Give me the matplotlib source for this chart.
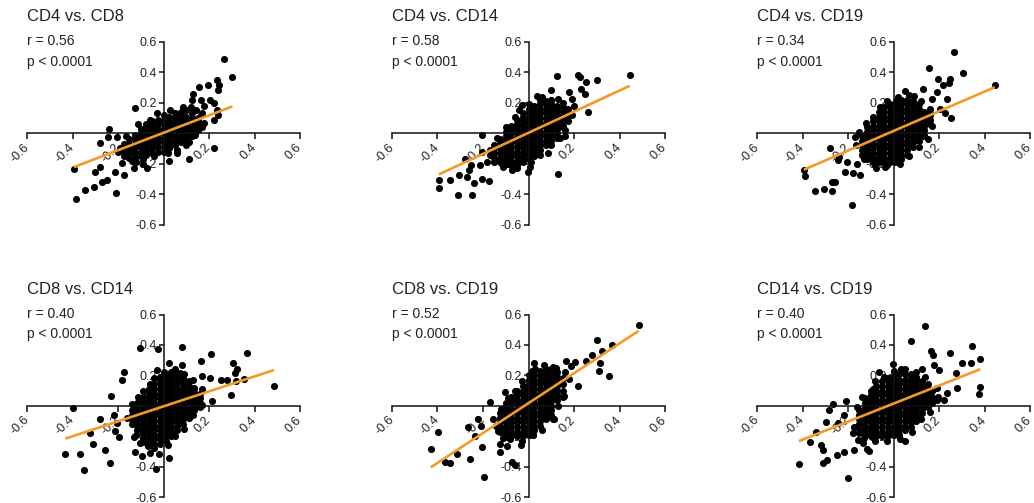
import matplotlib
matplotlib.use("Agg")
import matplotlib.pyplot as plt

plt.rcParams['font.family'] = ['Liberation Sans', 'DejaVu Sans']

titles = ["CD4 vs. CD8", "CD4 vs. CD14", "CD4 vs. CD19",
          "CD8 vs. CD14", "CD8 vs. CD19", "CD14 vs. CD19"]
r_values = ["0.56", "0.58", "0.34", "0.40", "0.52", "0.40"]
p_text = "p < 0.0001"
ticks = [-0.6, -0.4, -0.2, 0.2, 0.4, 0.6]
tick_labels = ["-0.6", "-0.4", "-0.2", "0.2", "0.4", "0.6"]

# regression lines
fit_slope = [0.573, 0.694, 0.647, 0.492, 0.982, 0.593]
fit_icept = [0.003, 0.003, 0.015, -0.004, 0.017, 0.014]

# scattered points (x, y)
p1_pts = [(0.267, 0.489), (0.303, 0.370), (0.236, 0.352), (0.245, 0.319), (0.241, 0.286),
          (0.197, 0.319), (0.157, 0.304), (0.131, 0.26), (0.124, 0.22), (0.163, 0.22),
          (0.204, 0.22), (0.22, 0.20), (0.18, 0.18), (0.235, 0.15), (0.17, 0.13),
          (0.145, 0.15), (0.18, 0.066), (0.15, 0.07), (0.24, 0.12), (0.22, 0.09),
          (-0.124, 0.165), (-0.241, 0.026), (-0.245, -0.022), (-0.204, -0.022),
          (-0.277, -0.066), (-0.394, -0.238), (-0.386, -0.434), (-0.343, -0.370),
          (-0.306, -0.352), (-0.27, -0.32), (-0.25, -0.31), (-0.303, -0.253),
          (-0.277, -0.22), (-0.207, -0.396), (-0.211, -0.253), (-0.175, -0.275),
          (-0.182, -0.198), (-0.131, -0.231), (-0.16, -0.15), (-0.14, -0.12),
          (-0.2, -0.12), (-0.073, -0.231), (-0.12, -0.19), (-0.09, -0.2),
          (0.022, -0.18), (0.112, -0.172), (0.223, -0.099), (0.06, -0.13), (0.10, -0.08)]
# points at the rim of the dense centre
p1_edge = [(-0.19, -0.10), (-0.165, -0.02), (-0.11, 0.06), (-0.06, 0.09), (-0.03, 0.13),
           (0.03, 0.15), (0.085, 0.17), (0.12, 0.17), (0.165, 0.12), (0.17, 0.04),
           (0.14, -0.01), (0.11, -0.06), (0.06, -0.11), (0.02, -0.13), (-0.04, -0.15),
           (-0.09, -0.17), (-0.14, -0.18)]
# dense centre of each cloud, as columns: (x, [y, ...])
p1_core = [(-0.175, [-0.15, -0.12, -0.09, -0.07]),
           (-0.15, [-0.16, -0.13, -0.10, -0.07, -0.04]),
           (-0.125, [-0.16, -0.13, -0.10, -0.07, -0.04, -0.01]),
           (-0.10, [-0.15, -0.12, -0.09, -0.06, -0.03, 0.0, 0.03]),
           (-0.075, [-0.14, -0.11, -0.08, -0.05, -0.02, 0.01, 0.04, 0.06]),
           (-0.05, [-0.13, -0.10, -0.07, -0.04, -0.01, 0.02, 0.05, 0.08]),
           (-0.025, [-0.12, -0.09, -0.06, -0.03, 0.0, 0.03, 0.06, 0.09]),
           (0.0, [-0.12, -0.09, -0.06, -0.03, 0.0, 0.03, 0.06, 0.09, 0.12]),
           (0.025, [-0.10, -0.07, -0.04, -0.01, 0.02, 0.05, 0.08, 0.11]),
           (0.05, [-0.08, -0.05, -0.02, 0.01, 0.04, 0.07, 0.10, 0.13]),
           (0.075, [-0.06, -0.03, 0.0, 0.03, 0.06, 0.09, 0.12, 0.14]),
           (0.10, [-0.04, -0.01, 0.02, 0.05, 0.08, 0.11, 0.15]),
           (0.125, [-0.02, 0.01, 0.04, 0.07, 0.10, 0.13]),
           (0.15, [0.02, 0.05, 0.08, 0.10])]

p2_pts = [(0.445, 0.386), (0.300, 0.347), (0.216, 0.386), (0.226, 0.371), (0.252, 0.336),
          (0.127, 0.375), (0.098, 0.284), (0.178, 0.271), (0.230, 0.289), (0.248, 0.260),
          (0.262, 0.137), (0.036, 0.245), (0.128, 0.223), (0.19, 0.223), (-0.029, 0.184),
          (0.128, -0.271), (0.085, -0.128), (0.16, -0.015), (0.153, 0.039),
          (-0.204, -0.011), (-0.204, -0.124), (-0.168, -0.113), (-0.277, -0.171),
          (-0.251, -0.21), (-0.211, -0.21), (-0.182, -0.189), (-0.394, -0.308),
          (-0.394, -0.362), (-0.343, -0.308), (-0.306, -0.275), (-0.27, -0.29),
          (-0.24, -0.33), (-0.204, -0.30), (-0.172, -0.315), (-0.309, -0.406),
          (-0.248, -0.406), (-0.262, -0.243), (-0.16, -0.145), (-0.146, -0.178),
          (-0.073, -0.243), (-0.117, -0.2), (-0.003, -0.254), (0.007, -0.221),
          (-0.124, -0.069), (0.2, 0.18), (0.17, 0.15)]
p2_edge = [(-0.17, -0.14), (-0.14, -0.03), (-0.10, 0.04), (-0.06, 0.11), (-0.04, 0.15),
           (0.0, 0.19), (0.06, 0.24), (0.10, 0.22), (0.15, 0.20), (0.19, 0.12),
           (0.16, 0.02), (0.14, -0.03), (0.10, -0.08), (0.05, -0.14), (0.01, -0.19),
           (-0.05, -0.23), (-0.11, -0.22)]
p2_core = [(-0.15, [-0.19, -0.16, -0.13, -0.10, -0.08]),
           (-0.125, [-0.19, -0.16, -0.13, -0.10, -0.07, -0.04]),
           (-0.10, [-0.20, -0.17, -0.14, -0.11, -0.08, -0.05, -0.02, 0.01]),
           (-0.075, [-0.21, -0.18, -0.15, -0.12, -0.09, -0.06, -0.03, 0.0, 0.03, 0.05]),
           (-0.05, [-0.21, -0.18, -0.15, -0.12, -0.09, -0.06, -0.03, 0.0, 0.03, 0.06, 0.09]),
           (-0.025, [-0.19, -0.16, -0.13, -0.10, -0.07, -0.04, -0.01, 0.02, 0.05, 0.08, 0.11, 0.13]),
           (0.0, [-0.17, -0.14, -0.11, -0.08, -0.05, -0.02, 0.01, 0.04, 0.07, 0.10, 0.13, 0.16]),
           (0.025, [-0.15, -0.12, -0.09, -0.06, -0.03, 0.0, 0.03, 0.06, 0.09, 0.12, 0.15, 0.18]),
           (0.05, [-0.11, -0.08, -0.05, -0.02, 0.01, 0.04, 0.07, 0.10, 0.13, 0.16, 0.19, 0.22]),
           (0.075, [-0.08, -0.05, -0.02, 0.01, 0.04, 0.07, 0.10, 0.13, 0.16, 0.19, 0.21]),
           (0.10, [-0.05, -0.02, 0.01, 0.04, 0.07, 0.10, 0.13, 0.16, 0.19]),
           (0.125, [-0.03, 0.0, 0.03, 0.06, 0.09, 0.12, 0.15, 0.18]),
           (0.15, [0.05, 0.08, 0.11, 0.14, 0.17]),
           (0.175, [0.08, 0.12, 0.16])]

p3_pts = [(0.266, 0.533), (0.304, 0.397), (0.445, 0.319), (0.156, 0.43), (0.194, 0.36),
          (0.248, 0.354), (0.242, 0.332), (0.219, 0.314), (0.131, 0.293), (0.193, 0.271),
          (0.051, 0.277), (0.088, 0.245), (0.168, 0.223), (0.234, 0.223), (0.226, 0.135),
          (0.251, 0.103), (0.204, 0.157), (0.16, 0.135), (0.131, -0.017), (0.007, -0.192),
          (-0.036, -0.225), (-0.073, -0.17), (-0.168, -0.022), (-0.277, -0.094),
          (-0.241, -0.159), (-0.245, -0.175), (-0.394, -0.24), (-0.387, -0.284),
          (-0.343, -0.378), (-0.307, -0.367), (-0.27, -0.378), (-0.27, -0.319),
          (-0.256, -0.319), (-0.182, -0.472), (-0.212, -0.258), (-0.178, -0.262),
          (-0.146, -0.275), (-0.16, -0.203), (-0.204, -0.192), (-0.117, -0.148),
          (-0.076, -0.231)]
p3_edge = [(-0.165, -0.08), (-0.15, 0.01), (-0.12, 0.07), (-0.09, 0.11), (-0.06, 0.17),
           (-0.03, 0.21), (0.02, 0.24), (0.07, 0.25), (0.12, 0.21), (0.16, 0.16),
           (0.17, 0.05), (0.15, -0.04), (0.11, -0.09), (0.07, -0.15), (0.03, -0.20),
           (-0.03, -0.21), (-0.08, -0.21), (-0.13, -0.17)]
p3_core = [(-0.14, [-0.14, -0.11, -0.08, -0.05, -0.02]),
           (-0.115, [-0.17, -0.14, -0.11, -0.08, -0.05, -0.02, 0.01, 0.04]),
           (-0.09, [-0.19, -0.16, -0.13, -0.10, -0.07, -0.04, -0.01, 0.02, 0.05, 0.08]),
           (-0.065, [-0.19, -0.16, -0.13, -0.10, -0.07, -0.04, -0.01, 0.02, 0.05, 0.08, 0.11, 0.14]),
           (-0.04, [-0.19, -0.16, -0.13, -0.10, -0.07, -0.04, -0.01, 0.02, 0.05, 0.08, 0.11, 0.14, 0.17]),
           (-0.015, [-0.19, -0.16, -0.13, -0.10, -0.07, -0.04, -0.01, 0.02, 0.05, 0.08, 0.11, 0.14, 0.17, 0.19]),
           (0.01, [-0.18, -0.15, -0.12, -0.09, -0.06, -0.03, 0.0, 0.03, 0.06, 0.09, 0.12, 0.15, 0.18, 0.21]),
           (0.035, [-0.17, -0.14, -0.11, -0.08, -0.05, -0.02, 0.01, 0.04, 0.07, 0.10, 0.13, 0.16, 0.19, 0.22]),
           (0.06, [-0.14, -0.11, -0.08, -0.05, -0.02, 0.01, 0.04, 0.07, 0.10, 0.13, 0.16, 0.19, 0.22]),
           (0.085, [-0.09, -0.06, -0.03, 0.0, 0.03, 0.06, 0.09, 0.12, 0.15, 0.18, 0.21]),
           (0.11, [-0.05, -0.02, 0.01, 0.04, 0.07, 0.10, 0.13, 0.16, 0.19]),
           (0.135, [-0.01, 0.02, 0.05, 0.08, 0.11, 0.14]),
           (0.16, [0.06, 0.09, 0.12])]

p4_pts = [(0.369, 0.348), (0.307, 0.282), (0.321, 0.242), (0.314, 0.216), (0.209, 0.337),
          (0.165, 0.293), (0.080, 0.385), (0.486, 0.132), (0.355, 0.176), (0.318, 0.165),
          (0.277, 0.172), (0.251, 0.172), (0.295, 0.073), (0.204, 0.183), (0.168, 0.194),
          (0.212, 0.029), (0.168, 0.007), (-0.105, 0.381), (-0.022, 0.374), (-0.172, 0.222),
          (-0.181, 0.167), (-0.029, 0.238), (0.022, 0.282), (0.08, 0.271), (0.073, 0.216),
          (-0.231, 0.066), (-0.397, -0.013), (-0.277, -0.086), (-0.216, -0.059),
          (-0.204, -0.115), (-0.212, -0.163), (-0.197, -0.203), (-0.321, -0.181),
          (-0.31, -0.253), (-0.255, -0.29), (-0.431, -0.317), (-0.369, -0.317),
          (-0.35, -0.423), (-0.236, -0.374), (-0.124, -0.302), (-0.095, -0.328),
          (-0.058, -0.308), (-0.018, -0.319), (0.025, -0.341), (-0.032, -0.419),
          (-0.066, -0.264), (-0.102, -0.247), (-0.131, -0.203)]
p4_edge = [(-0.16, -0.08), (-0.14, 0.01), (-0.11, 0.06), (-0.09, 0.10), (-0.06, 0.14),
           (-0.04, 0.18), (0.0, 0.22), (0.05, 0.24), (0.09, 0.21), (0.13, 0.17),
           (0.17, 0.11), (0.16, -0.01), (0.13, -0.06), (0.09, -0.15), (0.05, -0.20),
           (0.02, -0.26), (-0.04, -0.28), (-0.09, -0.24), (-0.12, -0.19)]
p4_core = [(-0.14, [-0.12, -0.09, -0.06, -0.03]),
           (-0.115, [-0.16, -0.13, -0.10, -0.07, -0.04, -0.01, 0.02]),
           (-0.09, [-0.21, -0.18, -0.15, -0.12, -0.09, -0.06, -0.03, 0.0, 0.03, 0.06]),
           (-0.065, [-0.25, -0.22, -0.19, -0.16, -0.13, -0.10, -0.07, -0.04, -0.01, 0.02, 0.05, 0.08, 0.11]),
           (-0.04, [-0.25, -0.22, -0.19, -0.16, -0.13, -0.10, -0.07, -0.04, -0.01, 0.02, 0.05, 0.08, 0.11, 0.14]),
           (-0.015, [-0.25, -0.22, -0.19, -0.16, -0.13, -0.10, -0.07, -0.04, -0.01, 0.02, 0.05, 0.08, 0.11, 0.14, 0.17, 0.19]),
           (0.01, [-0.23, -0.20, -0.17, -0.14, -0.11, -0.08, -0.05, -0.02, 0.01, 0.04, 0.07, 0.10, 0.13, 0.16, 0.19, 0.21]),
           (0.035, [-0.20, -0.17, -0.14, -0.11, -0.08, -0.05, -0.02, 0.01, 0.04, 0.07, 0.10, 0.13, 0.16, 0.19, 0.22]),
           (0.06, [-0.16, -0.13, -0.10, -0.07, -0.04, -0.01, 0.02, 0.05, 0.08, 0.11, 0.14, 0.17, 0.20]),
           (0.085, [-0.12, -0.09, -0.06, -0.03, 0.0, 0.03, 0.06, 0.09, 0.12, 0.15, 0.18]),
           (0.11, [-0.08, -0.05, -0.02, 0.01, 0.04, 0.07, 0.10, 0.13, 0.16]),
           (0.135, [-0.03, 0.0, 0.03, 0.06, 0.09, 0.12]),
           (0.16, [0.02, 0.05, 0.08])]

p5_pts = [(0.485, 0.532), (0.300, 0.431), (0.366, 0.400), (0.322, 0.361), (0.313, 0.278),
          (0.308, 0.228), (0.354, 0.197), (0.278, 0.333), (0.252, 0.291), (0.206, 0.289),
          (0.165, 0.291), (0.187, 0.263), (0.216, 0.127), (0.157, 0.066), (0.179, 0.175),
          (0.026, 0.284), (0.015, 0.23), (0.106, 0.252), (-0.171, 0.026), (-0.105, 0.088),
          (-0.222, -0.088), (-0.207, -0.131), (-0.156, -0.088), (-0.265, -0.142),
          (-0.236, -0.197), (-0.397, -0.175), (-0.43, -0.284), (-0.367, -0.372),
          (-0.345, -0.379), (-0.316, -0.317), (-0.258, -0.35), (-0.203, -0.274),
          (-0.197, -0.470), (-0.127, -0.252), (-0.095, -0.267), (-0.032, -0.258),
          (-0.071, -0.372), (-0.058, -0.39), (-0.127, -0.306), (-0.134, -0.164),
          (0.077, -0.077), (0.106, -0.088), (0.019, -0.19)]
p5_edge = [(-0.145, -0.13), (-0.12, -0.02), (-0.09, 0.05), (-0.06, 0.10), (-0.03, 0.16),
           (0.0, 0.20), (0.03, 0.24), (0.07, 0.27), (0.12, 0.25), (0.16, 0.22),
           (0.15, 0.06), (0.13, 0.0), (0.11, -0.09), (0.06, -0.16), (0.02, -0.19),
           (-0.03, -0.23), (-0.08, -0.22), (-0.11, -0.21)]
p5_core = [(-0.125, [-0.17, -0.14, -0.11, -0.08, -0.05]),
           (-0.10, [-0.19, -0.16, -0.13, -0.10, -0.07, -0.04, -0.01, 0.02]),
           (-0.075, [-0.20, -0.17, -0.14, -0.11, -0.08, -0.05, -0.02, 0.01, 0.04, 0.06]),
           (-0.05, [-0.20, -0.17, -0.14, -0.11, -0.08, -0.05, -0.02, 0.01, 0.04, 0.07, 0.10]),
           (-0.025, [-0.20, -0.17, -0.14, -0.11, -0.08, -0.05, -0.02, 0.01, 0.04, 0.07, 0.10, 0.13]),
           (0.0, [-0.19, -0.16, -0.13, -0.10, -0.07, -0.04, -0.01, 0.02, 0.05, 0.08, 0.11, 0.14, 0.17]),
           (0.025, [-0.16, -0.13, -0.10, -0.07, -0.04, -0.01, 0.02, 0.05, 0.08, 0.11, 0.14, 0.17, 0.20]),
           (0.05, [-0.13, -0.10, -0.07, -0.04, -0.01, 0.02, 0.05, 0.08, 0.11, 0.14, 0.17, 0.20, 0.23]),
           (0.075, [-0.09, -0.06, -0.03, 0.0, 0.03, 0.06, 0.09, 0.12, 0.15, 0.18, 0.21, 0.24]),
           (0.10, [-0.06, -0.03, 0.0, 0.03, 0.06, 0.09, 0.12, 0.15, 0.18, 0.21, 0.24]),
           (0.125, [0.04, 0.07, 0.10, 0.13, 0.16, 0.19, 0.22]),
           (0.15, [0.10, 0.14, 0.18])]

p6_pts = [(0.137, 0.524), (0.076, 0.424), (0.164, 0.359), (0.174, 0.335), (0.248, 0.346),
          (0.346, 0.391), (0.382, 0.309), (0.339, 0.28), (0.299, 0.283), (0.273, 0.217),
          (0.382, 0.124), (0.375, 0.076), (0.277, 0.12), (0.236, 0.085), (0.222, 0.037),
          (0.196, 0.059), (0.2, 0.233), (0.127, 0.243), (0.178, 0.265), (-0.004, 0.276),
          (-0.063, 0.222), (0.032, 0.243), (-0.092, 0.113), (0.05, -0.235),
          (-0.267, 0.011), (-0.209, 0.033), (-0.282, -0.028), (-0.216, -0.061),
          (-0.245, -0.115), (-0.296, -0.109), (-0.34, -0.174), (-0.369, -0.241),
          (-0.318, -0.257), (-0.308, -0.289), (-0.416, -0.38), (-0.311, -0.376),
          (-0.292, -0.354), (-0.248, -0.322), (-0.216, -0.307), (-0.172, -0.289),
          (-0.201, -0.474), (-0.118, -0.285), (-0.107, -0.3), (-0.158, -0.224),
          (-0.136, -0.246), (-0.18, -0.176), (-0.085, -0.213)]
p6_edge = [(-0.175, -0.14), (-0.16, -0.01), (-0.14, 0.06), (-0.10, 0.10), (-0.08, 0.16),
           (-0.04, 0.19), (0.0, 0.23), (0.05, 0.24), (0.10, 0.22), (0.14, 0.19),
           (0.19, 0.12), (0.19, 0.04), (0.16, -0.04), (0.12, -0.09), (0.08, -0.17),
           (0.03, -0.22), (-0.03, -0.23), (-0.08, -0.23), (-0.13, -0.21)]
p6_core = [(-0.15, [-0.18, -0.15, -0.12, -0.09, -0.06, -0.03]),
           (-0.125, [-0.19, -0.16, -0.13, -0.10, -0.07, -0.04, -0.01, 0.02, 0.05]),
           (-0.10, [-0.20, -0.17, -0.14, -0.11, -0.08, -0.05, -0.02, 0.01, 0.04, 0.07]),
           (-0.075, [-0.20, -0.17, -0.14, -0.11, -0.08, -0.05, -0.02, 0.01, 0.04, 0.07, 0.10, 0.13]),
           (-0.05, [-0.20, -0.17, -0.14, -0.11, -0.08, -0.05, -0.02, 0.01, 0.04, 0.07, 0.10, 0.13, 0.16]),
           (-0.025, [-0.20, -0.17, -0.14, -0.11, -0.08, -0.05, -0.02, 0.01, 0.04, 0.07, 0.10, 0.13, 0.16, 0.18]),
           (0.0, [-0.19, -0.16, -0.13, -0.10, -0.07, -0.04, -0.01, 0.02, 0.05, 0.08, 0.11, 0.14, 0.17, 0.20]),
           (0.025, [-0.19, -0.16, -0.13, -0.10, -0.07, -0.04, -0.01, 0.02, 0.05, 0.08, 0.11, 0.14, 0.17, 0.21]),
           (0.05, [-0.16, -0.13, -0.10, -0.07, -0.04, -0.01, 0.02, 0.05, 0.08, 0.11, 0.14, 0.17, 0.21]),
           (0.075, [-0.14, -0.11, -0.08, -0.05, -0.02, 0.01, 0.04, 0.07, 0.10, 0.13, 0.16, 0.19, 0.21]),
           (0.10, [-0.10, -0.07, -0.04, -0.01, 0.02, 0.05, 0.08, 0.11, 0.14, 0.17, 0.19]),
           (0.125, [-0.05, -0.02, 0.01, 0.04, 0.07, 0.10, 0.13, 0.16]),
           (0.15, [-0.01, 0.02, 0.05, 0.08, 0.11, 0.14]),
           (0.17, [0.02, 0.06, 0.10])]

panel_pts = [p1_pts + p1_edge, p2_pts + p2_edge, p3_pts + p3_edge,
             p4_pts + p4_edge, p5_pts + p5_edge, p6_pts + p6_edge]
panel_core = [p1_core, p2_core, p3_core, p4_core, p5_core, p6_core]

W, H = 1034, 503
fig = plt.figure(figsize=(W / 100, H / 100), dpi=100)

col_left = [27, 392, 757]   # px, left end of x axis
row_top = [42, 314.5]       # px, top of y axis
ax_w, ax_h = 273, 182.5

for i in range(6):
    r, c = divmod(i, 3)
    ax = fig.add_axes([col_left[c] / W, 1 - (row_top[r] + ax_h) / H, ax_w / W, ax_h / H])

    xs = [p[0] for p in panel_pts[i]]
    ys = [p[1] for p in panel_pts[i]]
    for cx, cys in panel_core[i]:
        xs += [cx] * len(cys)
        ys += cys
    ax.scatter(xs, ys, s=26, c='black', linewidths=0, zorder=2)

    x0, x1 = min(xs), max(xs)
    ax.plot([x0, x1], [fit_slope[i] * x0 + fit_icept[i], fit_slope[i] * x1 + fit_icept[i]],
            color='#F39A2B', lw=1.9, zorder=3, solid_capstyle='butt')

    ax.set_xlim(-0.6, 0.6)
    ax.set_ylim(-0.6, 0.6)
    ax.set_axisbelow(True)
    ax.patch.set_visible(False)
    for s in ['top', 'right']:
        ax.spines[s].set_visible(False)
    for s in ['left', 'bottom']:
        ax.spines[s].set_position(('data', 0))
        ax.spines[s].set_linewidth(1.1)
        ax.spines[s].set_color('#111111')

    ax.set_xticks(ticks)
    ax.set_xticklabels(tick_labels, rotation=45, ha='right', va='center',
                       rotation_mode='anchor', fontsize=9, color='#222222')
    ax.set_yticks(ticks)
    ax.set_yticklabels(tick_labels, fontsize=9, color='#222222')
    ax.tick_params(axis='x', direction='out', length=4, width=1.1, pad=5, color='#111111')
    ax.tick_params(axis='y', direction='out', length=3.5, width=1.1, pad=1.5, color='#111111')

    ax.annotate(titles[i], xy=(0, 1), xycoords='axes fraction', xytext=(0, 14.8),
                textcoords='offset points', fontsize=12, color='#222222', va='baseline')
    ax.annotate("r = " + r_values[i], xy=(0, 1), xycoords='axes fraction', xytext=(0, -2.4),
                textcoords='offset points', fontsize=10, color='#222222', va='baseline')
    ax.annotate(p_text, xy=(0, 1), xycoords='axes fraction', xytext=(0, -17),
                textcoords='offset points', fontsize=10, color='#222222', va='baseline')

fig.savefig("out.png", dpi=100)
